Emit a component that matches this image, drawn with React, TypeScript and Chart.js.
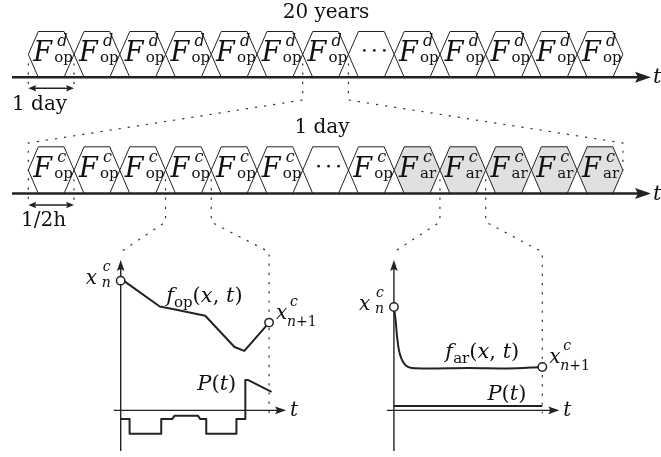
import React, { useEffect, useRef } from "react";
import { Chart, registerables } from "chart.js";

Chart.register(...registerables);

// ---- data ----
// top timeline: 20 years of daily sub-problems
const yearSlots = ["op", "op", "op", "op", "op", "op", "op", "dots", "op", "op", "op", "op", "op"];
// one day of half-hour sub-problems
const daySlots = ["op", "op", "op", "op", "op", "op", "dots", "op", "ar", "ar", "ar", "ar", "ar"];
const zoomYearToDay = [6, 7];
const zoomDayToOp = [3, 4];
const zoomDayToAr = [9, 10];

// operating sub-problem (time in minutes of the half hour)
const opTime = [0, 1, 7.9, 10.5, 17.1, 23, 25, 30];
const opState = [133, 131.5, 106.5, 104, 97, 65, 61, 90];
const opPowerTime = [0, 1.8, 1.8, 8.2, 8.2, 10.4, 10.9, 15.6, 16.1, 17.3, 17.3, 23.4, 23.4, 25.2, 25.2, 25.8, 30.5];
const opPowerValue = [-9, -9, -24, -24, -9, -9, -5.5, -5.5, -9, -9, -24, -24, -9, -9, 31, 31, 19];

// arrest sub-problem
const arTime = [0, 0.35, 0.65, 1.0, 1.6, 2.4, 3.6, 7, 15, 23, 30];
const arState = [106, 92, 75, 62, 52, 46, 43.5, 43, 43.5, 43, 44.5];
const arPowerTime = [0, 30];
const arPowerValue = [4.5, 4.5];

// ---- styling ----
const INK = "#222";
const FONT = '"DejaVu Serif", "Liberation Serif", serif';
const font = (size: number, italic = false) => `${italic ? "italic " : ""}${size}px ${FONT}`;

type Run = [string, number, boolean, number?];
function runs(ctx: CanvasRenderingContext2D, x: number, y: number, list: Run[]) {
  let cx = x;
  ctx.textAlign = "left";
  ctx.textBaseline = "alphabetic";
  ctx.fillStyle = "#111";
  for (const [s, size, it, dy] of list) {
    ctx.font = font(size, it);
    ctx.fillText(s, cx, y + (dy || 0));
    cx += ctx.measureText(s).width;
  }
}
function put(ctx: CanvasRenderingContext2D, s: string, x: number, y: number, size: number, italic = false, align: CanvasTextAlign = "left") {
  ctx.font = font(size, italic);
  ctx.textAlign = align;
  ctx.textBaseline = "alphabetic";
  ctx.fillStyle = "#111";
  ctx.fillText(s, x, y);
}
function arrowHead(ctx: CanvasRenderingContext2D, tx: number, ty: number, dx: number, dy: number, len: number, half: number) {
  const bx = tx - dx * len, by = ty - dy * len;
  const px = -dy, py = dx;
  ctx.beginPath();
  ctx.moveTo(tx, ty);
  ctx.lineTo(bx + px * half, by + py * half);
  ctx.lineTo(bx + dx * len * 0.18, by + dy * len * 0.18);
  ctx.lineTo(bx - px * half, by - py * half);
  ctx.closePath();
  ctx.fillStyle = INK;
  ctx.fill();
}
function poly(ctx: CanvasRenderingContext2D, pts: number[][]) {
  ctx.beginPath();
  pts.forEach(([x, y], i) => (i ? ctx.lineTo(x, y) : ctx.moveTo(x, y)));
  ctx.stroke();
}

const ROWS = [
  { slots: yearSlots, top: 31.5, base: 77.3, sup: "d" },
  { slots: daySlots, top: 146.8, base: 193.5, sup: "c" },
];
const SLANT = 10;

const diagramPlugin = {
  id: "diagram",
  beforeDatasetsDraw(chart: any) {
    const ctx: CanvasRenderingContext2D = chart.ctx;
    const xr = chart.scales.xRow;
    const xL = chart.scales.xL;
    const xR = chart.scales.xR;
    const ys = chart.scales.yS;
    const X = (i: number) => xr.getPixelForValue(i);
    ctx.save();
    ctx.lineJoin = "miter";

    // hexagon rows
    ROWS.forEach((row) => {
      const mid = (row.top + row.base) / 2;
      row.slots.forEach((kind, i) => {
        const x0 = X(i), x1 = X(i + 1);
        ctx.beginPath();
        ctx.moveTo(x0, mid);
        ctx.lineTo(x0 + SLANT, row.top);
        ctx.lineTo(x1 - SLANT, row.top);
        ctx.lineTo(x1, mid);
        ctx.lineTo(x1 - SLANT, row.base);
        ctx.lineTo(x0 + SLANT, row.base);
        ctx.closePath();
        if (kind === "ar") {
          ctx.fillStyle = "#e0e0e0";
          ctx.fill();
        }
        ctx.lineWidth = 1;
        ctx.strokeStyle = INK;
        ctx.setLineDash([]);
        ctx.stroke();
        const cx = (x0 + x1) / 2;
        if (kind === "dots") {
          ctx.fillStyle = INK;
          for (let k = -1; k <= 1; k++) {
            ctx.beginPath();
            ctx.arc(cx + 3 + k * 10, mid - 4, 1.4, 0, Math.PI * 2);
            ctx.fill();
          }
        } else {
          put(ctx, "F", cx - 18, mid + 7, 27, true);
          put(ctx, row.sup, cx + 6, mid - 8, 16, true);
          put(ctx, kind, cx + 3, mid + 8, 15);
        }
      });
      // time axis
      ctx.lineWidth = 2.6;
      ctx.strokeStyle = INK;
      poly(ctx, [[12, row.base], [640, row.base]]);
      arrowHead(ctx, 651, row.base, 1, 0, 16, 5.5);
      put(ctx, "t", 653, row.base + 6, 21, true);
    });

    // dotted guides
    ctx.strokeStyle = "#333";
    ctx.lineWidth = 1.2;
    ctx.setLineDash([2.2, 7]);
    const [r1, r2] = ROWS;
    const mid1 = (r1.top + r1.base) / 2, mid2 = (r2.top + r2.base) / 2;
    [0, 1].forEach((b) => {
      poly(ctx, [[X(b), mid1 + 9], [X(b), r1.base + 8]]);
      if (b === 1) poly(ctx, [[X(b), mid2 + 9], [X(b), r2.base + 8]]);
    });
    // year -> day zoom
    poly(ctx, [[X(zoomYearToDay[0]), mid1 + 9], [X(zoomYearToDay[0]), 100], [X(0), 143], [X(0), r2.base + 8]]);
    poly(ctx, [[X(zoomYearToDay[1]), mid1 + 9], [X(zoomYearToDay[1]), 100], [X(13), 143], [X(13), mid2]]);
    // day -> subproblem zooms
    const subs = [
      { b: zoomDayToOp, xs: xL },
      { b: zoomDayToAr, xs: xR },
    ];
    subs.forEach(({ b, xs }) => {
      const p0 = xs.getPixelForValue(0), p1 = xs.getPixelForValue(30);
      poly(ctx, [[X(b[0]), mid2 + 9], [X(b[0]), 222], [p0, 252]]);
      poly(ctx, [[X(b[1]), mid2 + 9], [X(b[1]), 222], [p1, 252], [p1, ys.getPixelForValue(-3)]]);
    });

    // subplot axes
    ctx.setLineDash([]);
    ctx.lineWidth = 1.4;
    ctx.strokeStyle = INK;
    subs.forEach(({ xs }) => {
      const ox = xs.getPixelForValue(0), oy = ys.getPixelForValue(0);
      const tip = xs.getPixelForValue(30) + 17;
      poly(ctx, [[ox, 451], [ox, 268]]);
      arrowHead(ctx, ox, 260, 0, -1, 11, 3.8);
      poly(ctx, [[ox - 7, oy], [tip - 8, oy]]);
      arrowHead(ctx, tip, oy, 1, 0, 11, 3.8);
      put(ctx, "t", tip + 4, oy + 6, 20, true);
    });
    ctx.restore();
  },
  afterDatasetsDraw(chart: any) {
    const ctx: CanvasRenderingContext2D = chart.ctx;
    const xr = chart.scales.xRow;
    const xL = chart.scales.xL;
    const xR = chart.scales.xR;
    const ys = chart.scales.yS;
    ctx.save();
    const [r1, r2] = ROWS;
    // row annotations
    put(ctx, "20 years", 326, 18, 20, false, "center");
    put(ctx, "1 day", 322, 133, 20, false, "center");
    ctx.strokeStyle = INK;
    ctx.lineWidth = 1.4;
    [
      { y: r1.base + 11, label: "1 day", ty: 110 },
      { y: r2.base + 11.5, label: "1/2h", ty: 226 },
    ].forEach(({ y, label, ty }) => {
      const a = xr.getPixelForValue(0), b = xr.getPixelForValue(1);
      poly(ctx, [[a + 5, y], [b - 5, y]]);
      arrowHead(ctx, a, y, -1, 0, 8, 3.2);
      arrowHead(ctx, b, y, 1, 0, 8, 3.2);
      put(ctx, label, label === "1 day" ? 12 : 21, ty, 20);
    });

    // subplot labels
    const labelEnds = (xs: any, t: number[], v: number[]) => {
      const sx = xs.getPixelForValue(t[0]), sy = ys.getPixelForValue(v[0]);
      const ex = xs.getPixelForValue(t[t.length - 1]), ey = ys.getPixelForValue(v[v.length - 1]);
      runs(ctx, sx - 35, sy + 3, [["x", 20, true]]);
      put(ctx, "c", sx - 18, sy - 10, 14, true);
      put(ctx, "n", sx - 19, sy + 6, 14, true);
      runs(ctx, ex + 7, ey - 4, [["x", 20, true]]);
      put(ctx, "c", ex + 21, ey - 17, 14, true);
      runs(ctx, ex + 18, ey + 3, [["n", 14, true], ["+1", 14, false]]);
    };
    labelEnds(xL, opTime, opState);
    labelEnds(xR, arTime, arState);

    const fLabel = (x: number, y: number, sub: string) =>
      runs(ctx, x, y, [
        ["f", 21, true],
        [sub, 15, false, 5],
        ["(", 21, false],
        ["x", 21, true],
        [", ", 21, false],
        ["t", 21, true],
        [")", 21, false],
      ]);
    fLabel(xL.getPixelForValue(9.2), ys.getPixelForValue(111), "op");
    fLabel(xR.getPixelForValue(10.4), ys.getPixelForValue(54), "ar");
    const pLabel = (x: number, y: number) =>
      runs(ctx, x, y, [["P", 21, true], ["(", 21, false], ["t", 21, true], [")", 21, false]]);
    pLabel(xL.getPixelForValue(15.5), ys.getPixelForValue(21));
    pLabel(xR.getPixelForValue(18.9), ys.getPixelForValue(11));
    ctx.restore();
  },
};

const pts = (t: number[], v: number[]) => t.map((x, i) => ({ x, y: v[i] }));
const endRadii = (n: number) => Array.from({ length: n }, (_, i) => (i === 0 || i === n - 1 ? 4.2 : 0));

export default function App() {
  const ref = useRef<HTMLCanvasElement>(null);
  useEffect(() => {
    if (!ref.current) return;
    const lineBase = {
      type: "line" as const,
      borderColor: INK,
      borderWidth: 2,
      fill: false,
      tension: 0,
      borderJoinStyle: "round" as const,
      pointBackgroundColor: "#fff",
      pointBorderColor: INK,
      pointBorderWidth: 1.5,
      yAxisID: "yS",
    };
    const chart = new Chart(ref.current, {
      type: "line",
      data: {
        datasets: [
          { ...lineBase, label: "P_op", xAxisID: "xL", data: pts(opPowerTime, opPowerValue), pointRadius: 0 },
          { ...lineBase, label: "f_op", xAxisID: "xL", data: pts(opTime, opState), pointRadius: endRadii(opTime.length) },
          { ...lineBase, label: "P_ar", xAxisID: "xR", data: pts(arPowerTime, arPowerValue), pointRadius: 0 },
          {
            ...lineBase,
            label: "f_ar",
            xAxisID: "xR",
            data: pts(arTime, arState),
            cubicInterpolationMode: "monotone",
            pointRadius: endRadii(arTime.length),
          },
        ],
      },
      options: {
        responsive: false,
        animation: false,
        devicePixelRatio: 1,
        events: [],
        layout: { padding: 0 },
        plugins: { legend: { display: false }, tooltip: { enabled: false }, title: { display: false } },
        scales: {
          xRow: { type: "linear", axis: "x", display: false, bounds: "data", min: -0.4942, max: 13.7086 },
          xL: { type: "linear", axis: "x", display: false, bounds: "data", min: -23.245, max: 108.08 },
          xR: { type: "linear", axis: "x", display: false, bounds: "data", min: -78.48, max: 52.84 },
          yS: { type: "linear", axis: "y", display: false, bounds: "data", min: -42, max: 415 },
        },
      } as any,
      plugins: [diagramPlugin],
    });
    return () => chart.destroy();
  }, []);
  return (
    <div style={{ position: "fixed", left: 0, top: 0, width: 661, height: 457, background: "#fff" }}>
      <canvas ref={ref} width={661} height={457} style={{ width: 661, height: 457 }} />
    </div>
  );
}
